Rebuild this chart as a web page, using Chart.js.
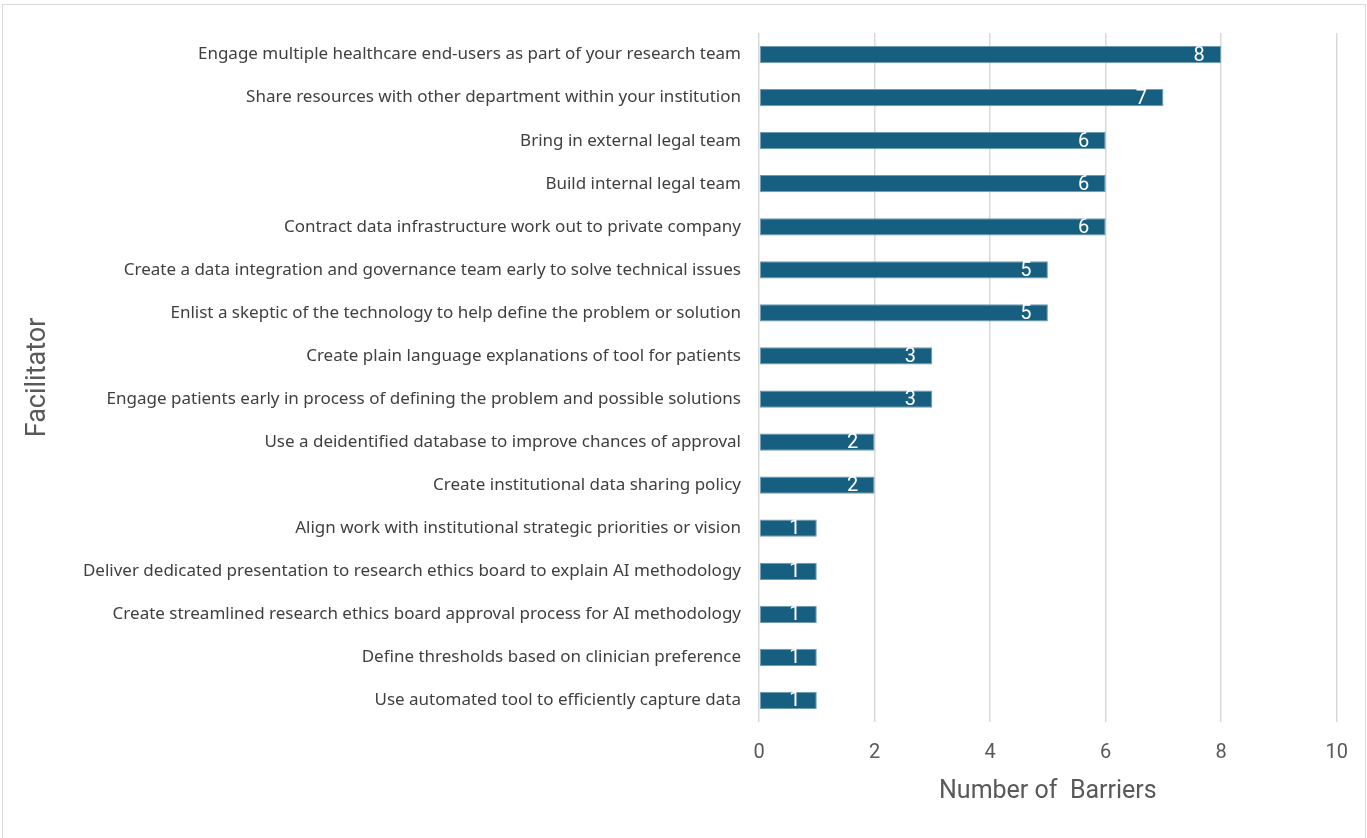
<!DOCTYPE html>
<html lang="en">
<head>
    <meta charset="UTF-8">
    <title>Facilitators</title>
    <script src="https://cdn.jsdelivr.net/npm/chart.js"></script>
    <style>
        html, body { margin: 0; padding: 0; background: #fff; }
        .frame {
            position: absolute; left: 2px; top: 4px; width: 1364px; height: 840px;
            border: 1px solid #d9d9d9; box-sizing: border-box;
        }
        .wrap { position: absolute; left: 0; top: 0; width: 1367px; height: 838px; }
    </style>
</head>
<body>
    <div class="frame"></div>
    <div class="wrap">
        <canvas id="facilitatorChart" width="1367" height="838"></canvas>
    </div>

    <script>
        // facilitators and how many barriers each one addresses
        const facilitators = [
            'Engage multiple healthcare end-users as part of your research team',
            'Share resources with other department within your institution',
            'Bring in external legal team',
            'Build internal legal team',
            'Contract data infrastructure work out to private company',
            'Create a data integration and governance team early to solve technical issues',
            'Enlist a skeptic of the technology to help define the problem or solution',
            'Create plain language explanations of tool for patients',
            'Engage patients early in process of defining the problem and possible solutions',
            'Use a deidentified database to improve chances of approval',
            'Create institutional data sharing policy',
            'Align work with institutional strategic priorities or vision',
            'Deliver dedicated presentation to research ethics board to explain AI methodology',
            'Create streamlined research ethics board approval process for AI methodology',
            'Define thresholds based on clinician preference',
            'Use automated tool to efficiently capture data'
        ];
        const barrierCounts = [8, 7, 6, 6, 6, 5, 5, 3, 3, 2, 2, 1, 1, 1, 1, 1];
        const xTicks = [0, 2, 4, 6, 8, 10];

        // white value labels near the end of each bar
        const valueLabels = {
            id: 'valueLabels',
            afterDatasetsDraw(chart) {
                const ctx = chart.ctx;
                const meta = chart.getDatasetMeta(0);
                ctx.save();
                ctx.fillStyle = '#ffffff';
                ctx.font = '20px Roboto';
                ctx.textAlign = 'center';
                ctx.textBaseline = 'middle';
                meta.data.forEach((bar, i) => {
                    ctx.fillText(String(barrierCounts[i]), bar.x - 22, bar.y + 1);
                });
                ctx.restore();
            }
        };

        const ctx = document.getElementById('facilitatorChart').getContext('2d');
        new Chart(ctx, {
            type: 'bar',
            data: {
                labels: facilitators,
                datasets: [{
                    data: barrierCounts,
                    backgroundColor: '#175f81',
                    borderColor: '#6f9bb1',
                    borderWidth: 1,
                    borderSkipped: false,
                    categoryPercentage: 1,
                    barPercentage: 0.4
                }]
            },
            options: {
                indexAxis: 'y',
                responsive: false,
                animation: false,
                layout: { padding: { top: 33, right: 25, bottom: 0, left: 0 } },
                plugins: {
                    legend: { display: false },
                    tooltip: { enabled: false }
                },
                scales: {
                    x: {
                        min: 0,
                        max: 10,
                        afterBuildTicks(scale) {
                            scale.ticks = xTicks.map(v => ({ value: v }));
                        },
                        afterFit(scale) { scale.height = 116; },
                        grid: { color: '#d9d9d9', lineWidth: 1.5, drawTicks: false },
                        border: { display: false },
                        ticks: {
                            color: '#595959',
                            font: { family: 'Roboto', size: 20 },
                            padding: 19,
                            maxRotation: 0
                        },
                        title: {
                            display: true,
                            text: 'Number of  Barriers',
                            color: '#595959',
                            font: { family: 'Roboto', size: 25 },
                            padding: { top: 0, bottom: 31 }
                        }
                    },
                    y: {
                        afterFit(scale) { scale.width = 759; },
                        grid: { display: false, drawTicks: false },
                        border: { display: false },
                        ticks: {
                            color: '#404040',
                            font: { family: 'Noto Sans', size: 17 },
                            padding: 18,
                            autoSkip: false
                        },
                        title: {
                            display: true,
                            text: 'Facilitator',
                            color: '#595959',
                            font: { family: 'Roboto', size: 27 },
                            padding: { top: 22, bottom: 0 }
                        }
                    }
                }
            },
            plugins: [valueLabels]
        });
    </script>
</body>
</html>
